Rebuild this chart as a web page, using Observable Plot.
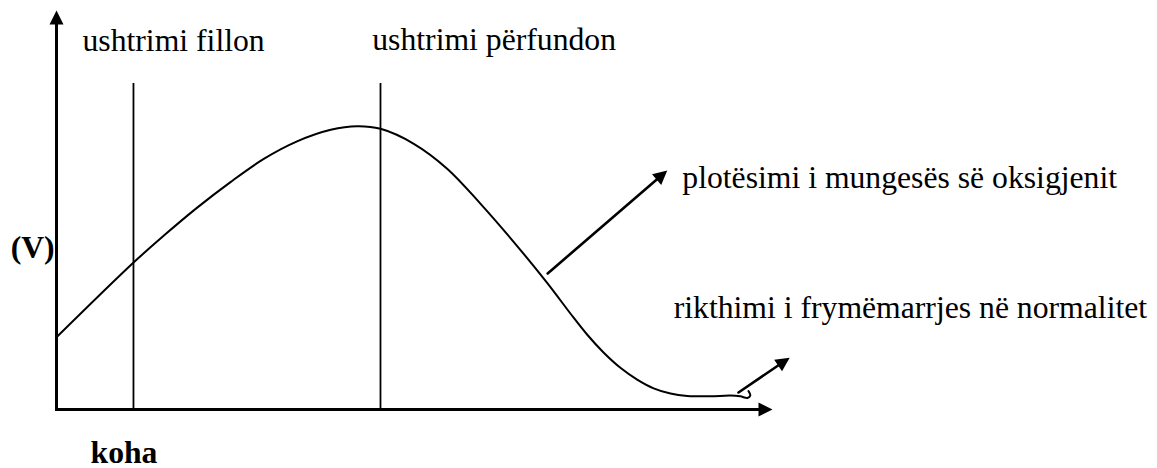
<!DOCTYPE html>
<html>
<head>
<meta charset="utf-8">
<script src="https://cdn.jsdelivr.net/npm/d3@7"></script>
<script src="https://cdn.jsdelivr.net/npm/@observablehq/plot@0.6"></script>
<style>
  html, body { margin: 0; padding: 0; background: #fff; }
  svg { display: block; }
  svg text { font-family: "Liberation Serif", "Times New Roman", serif !important; }
</style>
</head>
<body>
<script>
// ---- data (time units 0..100 on x, ventilation units 0..100 on y) ----
const curveTime = [0, 10.8, 15.0, 19.65, 24.3, 28.95, 33.6, 38.3, 42.0, 45.25, 49.9, 54.6, 59.2, 63.9, 68.5, 71.8, 74.1, 76.4, 78.8, 81.1, 83.4, 85.75, 88.1, 91.3, 94.1, 95.5, 96.5, 96.9, 96.65];
const curveVent = [18.1, 36.9, 43.6, 50.6, 57.0, 62.8, 67.2, 70.1, 71.0, 70.35, 66.6, 60.3, 51.6, 41.9, 31.8, 24.0, 18.8, 14.3, 10.4, 7.5, 5.3, 4.0, 3.4, 3.3, 3.5, 3.3, 2.9, 3.5, 4.6];

const phaseTimes = [10.75, 45.25];          // exercise starts / ends
const phaseTop = 81.7;

const axisLabels = ["(V)", "koha"];
const axisLabelX = [-6.4, 4.75];
const axisLabelY = [40.4, -10.8];

const phaseLabels = ["ushtrimi fillon", "ushtrimi përfundon"];
const phaseLabelX = [3.63, 44.1];
const phaseLabelY = [92.5, 92.7];

const noteLabels = ["plotësimi i mungesës së oksigjenit", "rikthimi i frymëmarrjes në normalitet"];
const noteLabelX = [87.4, 86.2];
const noteLabelY = [58.1, 25.6];

const noteArrowFrom = [[68.6, 34.1], [95.25, 4.26]];
const noteArrowTo = [[85.3, 59.9], [102.4, 13.0]];

const axesFrom = [[0, 0], [0, 0]];
const axesTo = [[0, 100], [100, 0]];

// ---- layout ----
const W = 1157, H = 468;
const mL = 56, mR = 1157 - 772, mT = 10, mB = 468 - 409;
const kx = (W - mL - mR) / 100, ky = (H - mT - mB) / 100;

const arrowHead = {
  draw(context) {
    context.moveTo(0, 0);
    context.lineTo(-7, 14);
    context.lineTo(7, 14);
    context.closePath();
  }
};

function segs(from, to) {
  return from.map((f, i) => ({
    x1: f[0], y1: f[1], x2: to[i][0], y2: to[i][1],
    angle: Math.atan2((to[i][0] - f[0]) * kx, (to[i][1] - f[1]) * ky) * 180 / Math.PI
  }));
}
const axisSegs = segs(axesFrom, axesTo);
const noteSegs = segs(noteArrowFrom, noteArrowTo);

const curve = curveTime.map((t, i) => ({t, v: curveVent[i]}));
const phases = phaseTimes.map(t => ({t}));
const tbl = (labels, xs, ys) => labels.map((s, i) => ({s, x: xs[i], y: ys[i]}));

const font = "Liberation Serif";
const fs = 31.7;

const chart = Plot.plot({
  width: W, height: H,
  marginLeft: mL, marginRight: mR, marginTop: mT, marginBottom: mB,
  x: {domain: [0, 100], axis: null},
  y: {domain: [0, 100], axis: null},
  style: {background: "white", overflow: "visible", fontFamily: font, color: "black"},
  marks: [
    // exercise start / end lines
    Plot.ruleX(phases, {x: "t", y1: 0, y2: phaseTop, stroke: "black", strokeWidth: 1.8}),
    // the ventilation curve
    Plot.line(curve, {x: "t", y: "v", curve: "catmull-rom", stroke: "black", strokeWidth: 2}),
    // axes
    Plot.arrow(axisSegs, {x1: "x1", y1: "y1", x2: "x2", y2: "y2", headLength: 0, insetEnd: 10, stroke: "black", strokeWidth: 3, strokeLinecap: "square"}),
    Plot.dot(axisSegs, {x: "x2", y: "y2", symbol: arrowHead, rotate: "angle", fill: "black", stroke: "none"}),
    // annotation arrows
    Plot.arrow(noteSegs, {x1: "x1", y1: "y1", x2: "x2", y2: "y2", headLength: 0, insetEnd: 10, stroke: "black", strokeWidth: 2.6}),
    Plot.dot(noteSegs, {x: "x2", y: "y2", symbol: arrowHead, rotate: "angle", fill: "black", stroke: "none"}),
    // texts
    Plot.text(tbl(phaseLabels, phaseLabelX, phaseLabelY), {x: "x", y: "y", text: "s", textAnchor: "start", fontSize: fs, fill: "black", fontFamily: font}),
    Plot.text(tbl(noteLabels, noteLabelX, noteLabelY), {x: "x", y: "y", text: "s", textAnchor: "start", fontSize: fs, fill: "black", fontFamily: font}),
    Plot.text(tbl(axisLabels, axisLabelX, axisLabelY), {x: "x", y: "y", text: "s", textAnchor: "start", fontSize: fs, fontWeight: "bold", fill: "black", fontFamily: font})
  ]
});
document.body.appendChild(chart);
</script>
</body>
</html>
